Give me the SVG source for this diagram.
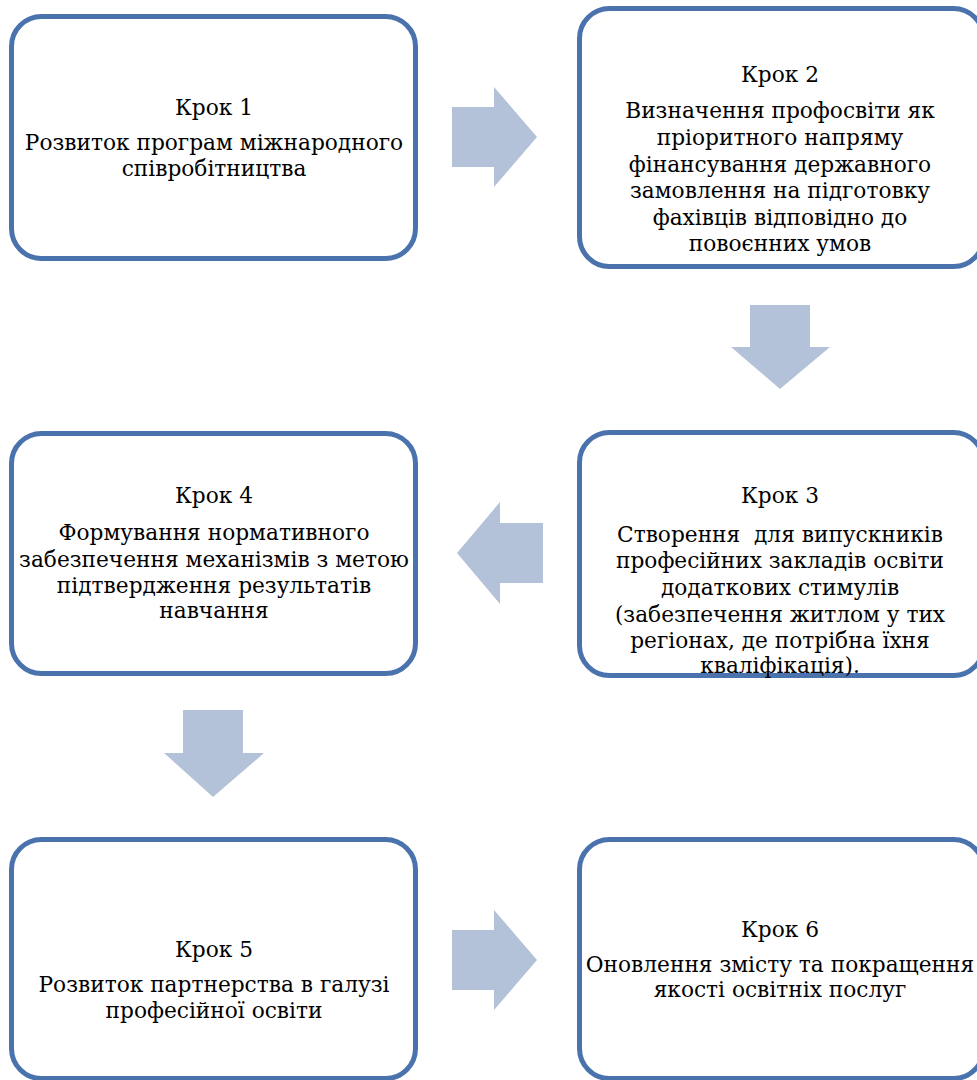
<svg xmlns="http://www.w3.org/2000/svg" width="977" height="1080" viewBox="0 0 977 1080">
<style>
.box{fill:#ffffff;stroke:#4a72ad;stroke-width:5}
.arr{fill:#b4c2d9}
text{font-family:"DejaVu Serif","Liberation Serif",serif;font-size:21.7px;fill:#000;text-anchor:middle}
</style>
<rect width="977" height="1080" fill="#ffffff"/>
<g id="connectors">
<polygon class="arr" points="452,107 494,107 494,87 537,137 494,187 494,167 452,167"/>
<polygon class="arr" points="750,305 810,305 810,347 830,347 780,389 731,347 750,347"/>
<polygon class="arr" points="543,523 500,523 500,502 457,553 500,604 500,583 543,583"/>
<polygon class="arr" points="183,710 243,710 243,753 264,753 213,797 164,753 183,753"/>
<polygon class="arr" points="452,930 494,930 494,910 537,960 494,1010 494,990 452,990"/>
</g>
<g id="step1">
<rect class="box" x="11.500" y="16.500" width="404" height="242" rx="30"/>
<text x="214" y="115">Крок 1</text>
<text x="214" y="150">Розвиток програм міжнародного</text>
<text x="214" y="176">співробітництва</text>
</g>
<g id="step2">
<rect class="box" x="579.500" y="8.500" width="404" height="258" rx="30"/>
<text x="780" y="82">Крок 2</text>
<text x="780" y="118">Визначення профосвіти як</text>
<text x="780" y="145">пріоритного напряму</text>
<text x="780" y="172">фінансування державного</text>
<text x="780" y="198">замовлення на підготовку</text>
<text x="780" y="225">фахівців відповідно до</text>
<text x="780" y="251">повоєнних умов</text>
</g>
<g id="step3">
<rect class="box" x="579.500" y="432.500" width="404" height="243" rx="30"/>
<text x="780" y="503">Крок 3</text>
<text x="780" y="542" xml:space="preserve">Створення  для випускників</text>
<text x="780" y="568">професійних закладів освіти</text>
<text x="780" y="595">додаткових стимулів</text>
<text x="780" y="622">(забезпечення житлом у тих</text>
<text x="780" y="648">регіонах, де потрібна їхня</text>
<text x="780" y="673">кваліфікація).</text>
</g>
<g id="step4">
<rect class="box" x="11.500" y="433.500" width="404" height="240" rx="30"/>
<text x="214" y="503">Крок 4</text>
<text x="214" y="540">Формування нормативного</text>
<text x="214" y="567">забезпечення механізмів з метою</text>
<text x="214" y="593">підтвердження результатів</text>
<text x="214" y="618">навчання</text>
</g>
<g id="step5">
<rect class="box" x="11.500" y="839.500" width="404" height="239" rx="30"/>
<text x="214" y="957">Крок 5</text>
<text x="214" y="992">Розвиток партнерства в галузі</text>
<text x="214" y="1018">професійної освіти</text>
</g>
<g id="step6">
<rect class="box" x="579.500" y="839.500" width="404" height="239" rx="30"/>
<text x="780" y="937">Крок 6</text>
<text x="780" y="972">Оновлення змісту та покращення</text>
<text x="780" y="997">якості освітніх послуг</text>
</g>
</svg>
